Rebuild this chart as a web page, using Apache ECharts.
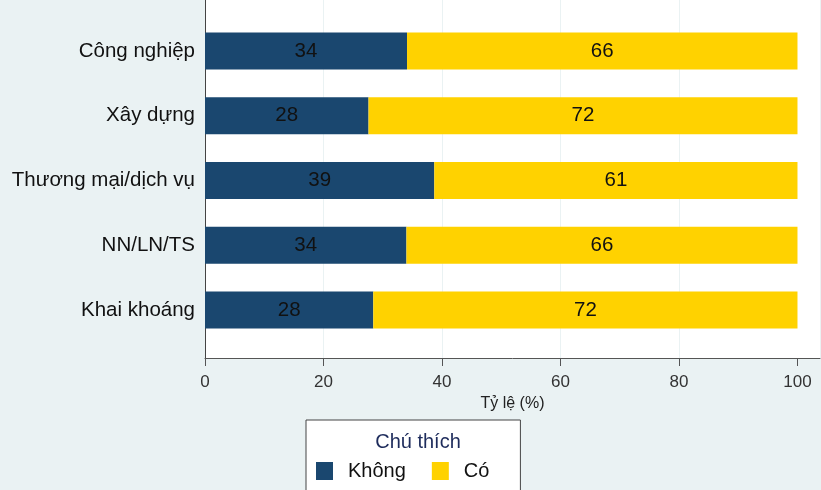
<!DOCTYPE html>
<html><head><meta charset="utf-8">
<script src="https://cdn.jsdelivr.net/npm/echarts@6/dist/echarts.min.js"></script>
<style>html,body{margin:0;padding:0;background:#eaf2f3;}#c{width:821px;height:490px;}</style>
</head><body><div id="c"></div>
<script>
const categories = ['Công nghiệp', 'Xây dựng', 'Thương mại/dịch vụ', 'NN/LN/TS', 'Khai khoáng'];
const khong = [34.1, 27.6, 38.7, 34.0, 28.4];
const co = [65.9, 72.4, 61.3, 66.0, 71.6];
const tickValues = [0, 20, 40, 60, 80, 100];
const seriesNames = ['Không', 'Có'];
const axisTitle = 'Tỷ lệ (%)';
const legendTitle = 'Chú thích';

const FONT = '"Liberation Sans", Arial, sans-serif';
const chart = echarts.init(document.getElementById('c'), null, {renderer: 'canvas'});
const XMAX = 103.8;
const labelFmt = p => Math.round(p.value);
chart.setOption({
  backgroundColor: '#eaf2f3',
  animation: false,
  title: {text: legendTitle, left: 413, top: 427, textAlign: 'center',
    textStyle: {fontFamily: FONT, fontSize: 20, fontWeight: 'normal', color: '#1e2c5c'}, z: 10},
  legend: {data: seriesNames, left: 306, top: 420, orient: 'horizontal', icon: 'rect',
    backgroundColor: '#fff', borderColor: '#444', borderWidth: 1,
    padding: [41, 31, 20, 10], itemWidth: 17, itemHeight: 18, itemGap: 26,
    textStyle: {fontFamily: FONT, fontSize: 20, color: '#111', padding: [0, 0, 0, 10]}},
  grid: [
    {left: 205, right: 1, top: 0, bottom: 132, show: true, backgroundColor: '#fff', borderWidth: 0},
    {left: 205, right: 1, top: 18.6, bottom: 147.6}
  ],
  xAxis: [
    {gridIndex: 0, type: 'value', min: 0, max: XMAX,
     name: axisTitle, nameLocation: 'middle', nameGap: 35,
     nameTextStyle: {fontFamily: FONT, fontSize: 16, color: '#222'},
     axisLine: {show: true, lineStyle: {color: '#555', width: 1}},
     axisTick: {show: true, length: 8, customValues: tickValues, lineStyle: {color: '#555'}},
     axisLabel: {customValues: tickValues, fontFamily: FONT, fontSize: 17, color: '#333', margin: 16},
     splitLine: {show: true, showMaxLine: false, lineStyle: {color: '#eaf2f3', width: 1}}},
    {gridIndex: 1, type: 'value', min: 0, max: XMAX, show: false, splitLine: {show: false}}
  ],
  yAxis: [
    {gridIndex: 0, type: 'category', data: [''], axisLine: {show: true, lineStyle: {color: '#444'}},
     axisTick: {show: false}, axisLabel: {show: false}},
    {gridIndex: 1, type: 'category', data: categories, inverse: true,
     axisLine: {show: false}, axisTick: {show: false},
     axisLabel: {fontFamily: FONT, fontSize: 20.5, color: '#111', margin: 10}}
  ],
  series: [
    {name: seriesNames[0], type: 'bar', stack: 's', xAxisIndex: 1, yAxisIndex: 1, data: khong,
     barWidth: 37, itemStyle: {color: '#1a476f'},
     label: {show: true, position: 'inside', formatter: labelFmt, fontFamily: FONT, fontSize: 20.5, color: '#111'}},
    {name: seriesNames[1], type: 'bar', stack: 's', xAxisIndex: 1, yAxisIndex: 1, data: co,
     barWidth: 37, itemStyle: {color: '#ffd200'},
     label: {show: true, position: 'inside', formatter: labelFmt, fontFamily: FONT, fontSize: 20.5, color: '#111'}}
  ]
});
</script></body></html>
